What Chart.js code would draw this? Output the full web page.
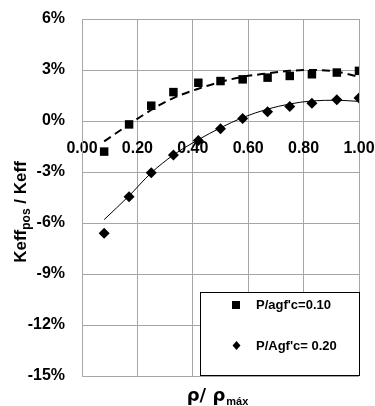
<!DOCTYPE html>
<html>
<head>
<meta charset="utf-8">
<script src="https://cdn.jsdelivr.net/npm/chart.js@4.4.0/dist/chart.umd.min.js"></script>
<style>
html, body { margin: 0; padding: 0; background: #fff; }
</style>
</head>
<body>
<canvas id="grafico" width="375" height="406"></canvas>
<script>
// rho / rho_max
var xVals = [0.08, 0.17, 0.25, 0.33, 0.42, 0.50, 0.58, 0.67, 0.75, 0.83, 0.92, 1.00];
// Keff_pos / Keff (%) - P/agf'c = 0.10 (quadrados)
var serie010 = [-1.8, -0.2, 0.9, 1.7, 2.25, 2.35, 2.45, 2.55, 2.65, 2.75, 2.85, 2.95];
// P/Agf'c = 0.20 (losangos)
var serie020 = [-6.6, -4.45, -3.05, -2.0, -1.15, -0.45, 0.15, 0.55, 0.85, 1.05, 1.25, 1.35];
// linhas de tendencia
var tend010 = [-1.2, -0.2, 0.65, 1.35, 1.9, 2.3, 2.6, 2.8, 2.95, 3.0, 2.9, 2.6];
var tend020 = [-5.8, -4.4, -3.05, -2.0, -1.1, -0.4, 0.2, 0.7, 1.0, 1.18, 1.22, 1.15];
var legendas = ["P/agf'c=0.10", "P/Agf'c= 0.20"];
var yTicks = [6, 3, 0, -3, -6, -9, -12, -15];
var xTicks = [0, 0.2, 0.4, 0.6, 0.8, 1.0];

function pares(ys) {
    var out = [];
    for (var i = 0; i < xVals.length; i++) out.push({x: xVals[i], y: ys[i]});
    return out;
}

var corGrade = '#a6a6a6';

function semPadding(axis) {
    axis.paddingLeft = 0; axis.paddingRight = 0;
    axis.paddingTop = 0; axis.paddingBottom = 0;
}

var extras = {
    id: 'extras',
    afterDraw: function(chart) {
        var ctx = chart.ctx;
        ctx.save();
        ctx.fillStyle = '#000';
        ctx.textBaseline = 'alphabetic';

        // titulo eixo y: Keff_pos / Keff
        ctx.save();
        ctx.translate(26, 212);
        ctx.rotate(-Math.PI / 2);
        var fM = 'bold 17px "Liberation Sans", Arial, sans-serif';
        var fS = 'bold 12px "Liberation Sans", Arial, sans-serif';
        ctx.font = fM; var w1 = ctx.measureText('Keff').width; var w3 = ctx.measureText(' / Keff').width;
        ctx.font = fS; var w2 = ctx.measureText('pos').width;
        var x0 = -(w1 + w2 + w3) / 2;
        ctx.font = fM; ctx.fillText('Keff', x0, 0);
        ctx.font = fS; ctx.fillText('pos', x0 + w1, 4);
        ctx.font = fM; ctx.fillText(' / Keff', x0 + w1 + w2, 0);
        ctx.restore();

        // titulo eixo x: rho/rho_max
        var gM = 'bold 18px "DejaVu Sans", sans-serif';
        var gS = 'bold 11px "Liberation Sans", Arial, sans-serif';
        ctx.font = gM; var a1 = ctx.measureText('ρ/ ρ').width;
        ctx.font = gS; var a2 = ctx.measureText('máx').width;
        var xs = 217 - (a1 + a2) / 2;
        ctx.font = gM; ctx.fillText('ρ/ ρ', xs, 401);
        ctx.font = gS; ctx.fillText('máx', xs + a1 + 1, 405);

        // legenda
        ctx.fillStyle = '#fff';
        ctx.fillRect(200, 292, 160, 83);
        ctx.strokeStyle = '#000';
        ctx.lineWidth = 1;
        ctx.strokeRect(200.5, 292.5, 159, 83);
        ctx.fillStyle = '#000';
        ctx.fillRect(232, 301, 8, 8);
        ctx.beginPath();
        ctx.moveTo(236.5, 341); ctx.lineTo(240.5, 345.5); ctx.lineTo(236.5, 350); ctx.lineTo(232.5, 345.5);
        ctx.closePath(); ctx.fill();
        ctx.font = 'bold 13px "Liberation Sans", Arial, sans-serif';
        ctx.textBaseline = 'middle';
        ctx.fillText(legendas[0], 256, 305);
        ctx.fillText(legendas[1], 256, 346);
        ctx.restore();
    }
};

var ctx = document.getElementById('grafico').getContext('2d');
var myChart = new Chart(ctx, {
    type: 'scatter',
    data: {
        datasets: [{
            label: legendas[0],
            data: pares(serie010),
            pointStyle: 'rect',
            pointRadius: 6,
            backgroundColor: '#000',
            borderWidth: 0,
            order: 2
        }, {
            label: legendas[1],
            data: pares(serie020),
            pointStyle: 'rectRot',
            pointRadius: 5.5,
            backgroundColor: '#000',
            borderWidth: 0,
            order: 2
        }, {
            label: 'tend 0.10',
            data: pares(tend010),
            showLine: true,
            pointRadius: 0,
            borderColor: '#000',
            borderWidth: 2,
            borderDash: [8, 5],
            cubicInterpolationMode: 'monotone',
            order: 1
        }, {
            label: 'tend 0.20',
            data: pares(tend020),
            showLine: true,
            pointRadius: 0,
            borderColor: '#000',
            borderWidth: 1,
            cubicInterpolationMode: 'monotone',
            order: 1
        }]
    },
    options: {
        responsive: false,
        animation: false,
        devicePixelRatio: 1,
        layout: { padding: { top: 19, right: 16, bottom: 30, left: 0 } },
        plugins: { legend: { display: false }, tooltip: { enabled: false } },
        scales: {
            x: {
                type: 'linear',
                min: 0, max: 1,
                position: { y: 0 },
                afterBuildTicks: function(axis) { axis.ticks = xTicks.map(function(v) { return {value: v}; }); },
                afterFit: function(axis) { axis.height = 0; semPadding(axis); },
                grid: { color: corGrade, drawTicks: false, lineWidth: 1 },
                border: { color: corGrade },
                ticks: {
                    padding: 18,
                    color: '#000',
                    font: { family: '"Liberation Sans", Arial, sans-serif', size: 16, weight: 'bold' },
                    callback: function(v) { return Number(v).toFixed(2); }
                }
            },
            y: {
                type: 'linear',
                min: -15, max: 6,
                afterBuildTicks: function(axis) { axis.ticks = yTicks.map(function(v) { return {value: v}; }); },
                afterFit: function(axis) { axis.width = 82; semPadding(axis); },
                grid: { color: corGrade, drawTicks: false, lineWidth: 1 },
                border: { color: corGrade },
                ticks: {
                    padding: 17,
                    color: '#000',
                    font: { family: '"Liberation Sans", Arial, sans-serif', size: 16, weight: 'bold' },
                    callback: function(v) { return v + '%'; }
                }
            }
        }
    },
    plugins: [extras]
});
</script>
</body>
</html>
